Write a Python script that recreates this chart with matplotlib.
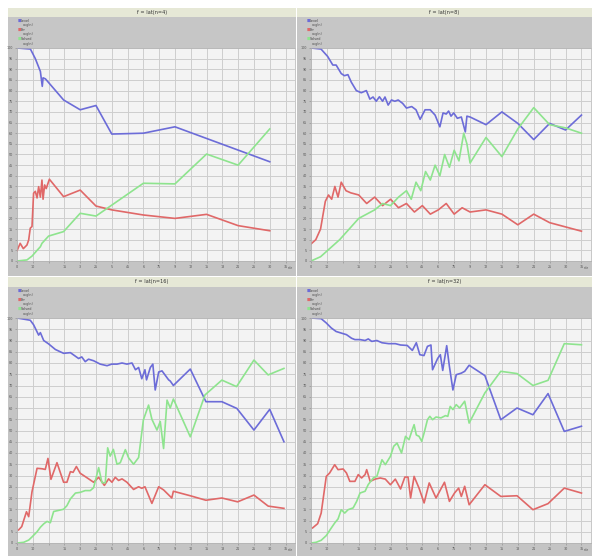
import matplotlib.pyplot as plt
from matplotlib.patches import Rectangle

W, H = 592, 556

# titres des quatre panneaux
titles = ["f = lat(n=4)", "f = lat(n=8)", "f = lat(n=16)", "f = lat(n=32)"]
legend_names = ["Level", "avg(n)", "Err", "avg(n)", "Solved", "avg(n)"]
x_ticks = list(range(0, 18))
x_ticklabels = ["0", "10", "", "15", "3", "25", "5", "45", "6", "75", "9", "12", "15", "18", "21", "25", "30", "35"]
y_ticks = [i * 0.05 for i in range(21)]
y_ticklabels = [str(i * 5) for i in range(21)]

# panneau n=4
n4_blue_x = [0, 0.85, 1.16, 1.48, 1.6, 1.65, 1.8, 2.95, 4.0, 5.0, 6.0, 8.0, 10.0, 16.0]
n4_blue_y = [1.0, 0.995, 0.95, 0.89, 0.82, 0.86, 0.855, 0.756, 0.71, 0.73, 0.596, 0.6, 0.63, 0.466]
n4_red_x = [0, 0.2, 0.4, 0.63, 0.74, 0.84, 0.95, 1.05, 1.16, 1.27, 1.37, 1.48, 1.58, 1.65, 1.75, 1.85, 2.05,
            2.95, 4.0, 5.0, 6.0, 8.0, 10.0, 12.0, 14.0, 16.0]
n4_red_y = [0.048, 0.083, 0.058, 0.075, 0.099, 0.154, 0.162, 0.318, 0.327, 0.296, 0.349, 0.30, 0.38, 0.29,
            0.357, 0.34, 0.384, 0.302, 0.333, 0.258, 0.24, 0.216, 0.2, 0.219, 0.166, 0.142]
n4_green_x = [0, 0.63, 0.95, 1.27, 1.48, 1.58, 2.0, 2.95, 4.0, 5.0, 8.0, 10.0, 12.0, 14.0, 16.0]
n4_green_y = [0.0, 0.005, 0.023, 0.05, 0.067, 0.083, 0.117, 0.138, 0.224, 0.211, 0.365, 0.362, 0.502, 0.45, 0.62]

# panneau n=8
n8_blue_x = [0, 0.63, 1.05, 1.37, 1.58, 1.9, 2.1, 2.32, 2.53, 2.85, 3.16, 3.48, 3.7, 3.9, 4.1, 4.3, 4.5, 4.65,
             4.85, 5.06, 5.27, 5.48, 5.76, 6.0, 6.33, 6.6, 6.86, 7.17, 7.49, 7.8, 8.1, 8.3, 8.5, 8.65, 8.8,
             8.97, 9.2, 9.45, 9.7, 9.8, 10.0, 11.0, 12.0, 13.0, 14.0, 15.0, 16.0, 17.0]
n8_blue_y = [1.0, 0.995, 0.96, 0.92, 0.92, 0.88, 0.87, 0.875, 0.84, 0.80, 0.79, 0.80, 0.76, 0.77, 0.75, 0.771,
             0.75, 0.77, 0.732, 0.756, 0.75, 0.756, 0.74, 0.718, 0.725, 0.71, 0.665, 0.71, 0.71, 0.685, 0.63,
             0.695, 0.69, 0.704, 0.68, 0.695, 0.67, 0.676, 0.606, 0.68, 0.676, 0.64, 0.70, 0.646, 0.57, 0.646,
             0.615, 0.685]
n8_red_x = [0, 0.3, 0.6, 0.9, 1.1, 1.3, 1.5, 1.7, 1.9, 2.2, 2.5, 3.0, 3.5, 4.0, 4.5, 5.0, 5.5, 6.0, 6.5, 7.0,
            7.5, 8.0, 8.5, 9.0, 9.5, 10.0, 11.0, 12.0, 13.0, 14.0, 15.0, 16.0, 17.0]
n8_red_y = [0.08, 0.1, 0.15, 0.28, 0.31, 0.29, 0.35, 0.30, 0.37, 0.33, 0.32, 0.31, 0.27, 0.30, 0.26, 0.29, 0.25,
            0.27, 0.23, 0.26, 0.22, 0.24, 0.27, 0.22, 0.25, 0.23, 0.24, 0.22, 0.17, 0.22, 0.18, 0.16, 0.14]
n8_green_x = [0, 0.6, 1.2, 1.8, 2.4, 3.0, 3.5, 4.0, 4.5, 5.0, 5.5, 6.0, 6.3, 6.6, 6.9, 7.2, 7.5, 7.8, 8.1, 8.4,
              8.7, 9.0, 9.3, 9.6, 9.8, 10.0, 11.0, 12.0, 13.0, 14.0, 15.0, 16.0, 17.0]
n8_green_y = [0.0, 0.02, 0.06, 0.1, 0.15, 0.2, 0.22, 0.24, 0.27, 0.26, 0.3, 0.33, 0.29, 0.37, 0.33, 0.42, 0.38,
              0.45, 0.40, 0.50, 0.44, 0.52, 0.47, 0.60, 0.55, 0.46, 0.58, 0.49, 0.62, 0.72, 0.64, 0.625, 0.60]

# panneau n=16
n16_blue_x = [0, 0.84, 1.05, 1.37, 1.48, 1.69, 2.0, 2.43, 2.95, 3.38, 3.9, 4.1, 4.32, 4.53, 4.85, 5.27, 5.7,
              6.0, 6.33, 6.65, 6.96, 7.28, 7.5, 7.7, 7.9, 8.1, 8.2, 8.44, 8.6, 8.75, 8.97, 9.18, 9.39, 9.6, 9.7,
              9.9, 10.97, 11.96, 12.97, 13.92, 15.0, 16.0, 16.9]
n16_blue_y = [1.0, 0.99, 0.97, 0.924, 0.935, 0.90, 0.885, 0.86, 0.843, 0.846, 0.82, 0.827, 0.806, 0.817, 0.81,
              0.795, 0.788, 0.795, 0.795, 0.80, 0.795, 0.80, 0.77, 0.78, 0.73, 0.77, 0.725, 0.78, 0.795, 0.68,
              0.76, 0.765, 0.745, 0.725, 0.72, 0.70, 0.773, 0.628, 0.628, 0.598, 0.502, 0.594, 0.45]
n16_red_x = [0.1, 0.3, 0.6, 0.74, 0.95, 1.27, 1.58, 1.79, 1.96, 2.15, 2.53, 2.95, 3.16, 3.38, 3.55, 3.76, 4.0,
             4.43, 4.85, 5.17, 5.53, 5.8, 6.01, 6.22, 6.43, 6.65, 6.96, 7.38, 7.7, 7.9, 8.1, 8.54, 8.97, 9.28,
             9.8, 9.9, 10.97, 11.96, 12.97, 13.97, 15.0, 15.9, 16.9]
n16_red_y = [0.058, 0.073, 0.139, 0.117, 0.228, 0.332, 0.33, 0.327, 0.376, 0.283, 0.357, 0.27, 0.27, 0.317,
             0.314, 0.34, 0.31, 0.29, 0.27, 0.292, 0.256, 0.285, 0.27, 0.292, 0.278, 0.285, 0.27, 0.238, 0.25,
             0.243, 0.25, 0.176, 0.25, 0.236, 0.2, 0.23, 0.21, 0.19, 0.20, 0.183, 0.213, 0.164, 0.154]
n16_green_x = [0, 0.42, 0.74, 0.95, 1.27, 1.48, 1.69, 1.9, 2.11, 2.32, 2.64, 2.95, 3.16, 3.38, 3.7, 4.0, 4.32,
               4.64, 4.85, 5.17, 5.38, 5.59, 5.74, 5.9, 6.1, 6.33, 6.54, 6.86, 7.07, 7.38, 7.7, 8.0, 8.33, 8.54,
               8.86, 9.07, 9.28, 9.5, 9.7, 9.9, 10.97, 11.9, 12.97, 13.9, 15.0, 15.9, 16.9]
n16_green_y = [0.0, 0.003, 0.013, 0.027, 0.05, 0.07, 0.085, 0.096, 0.09, 0.14, 0.145, 0.15, 0.166, 0.196,
               0.222, 0.225, 0.233, 0.233, 0.246, 0.335, 0.268, 0.268, 0.423, 0.386, 0.416, 0.35, 0.357, 0.415,
               0.378, 0.35, 0.38, 0.547, 0.613, 0.55, 0.502, 0.54, 0.42, 0.635, 0.60, 0.64, 0.472, 0.658,
               0.724, 0.695, 0.813, 0.747, 0.776]

# panneau n=32
n32_blue_x = [0, 0.64, 0.96, 1.27, 1.58, 1.9, 2.23, 2.55, 2.76, 3.08, 3.4, 3.6, 3.82, 4.14, 4.46, 4.88, 5.3,
              5.63, 6.05, 6.37, 6.62, 6.84, 7.1, 7.32, 7.54, 7.64, 7.96, 8.13, 8.28, 8.53, 8.7, 8.92, 9.13,
              9.45, 9.66, 9.94, 10.93, 11.93, 12.95, 13.95, 14.9, 15.92, 17.0]
n32_blue_y = [1.0, 0.997, 0.978, 0.956, 0.94, 0.933, 0.926, 0.91, 0.904, 0.904, 0.9, 0.907, 0.896, 0.9, 0.89,
              0.886, 0.886, 0.88, 0.878, 0.856, 0.89, 0.837, 0.833, 0.874, 0.88, 0.77, 0.82, 0.837, 0.767,
              0.877, 0.785, 0.68, 0.748, 0.755, 0.763, 0.79, 0.744, 0.548, 0.6, 0.57, 0.664, 0.496, 0.519]
n32_red_x = [0.1, 0.42, 0.64, 0.96, 1.17, 1.49, 1.7, 2.02, 2.23, 2.44, 2.76, 2.97, 3.18, 3.4, 3.5, 3.72, 4.03,
             4.35, 4.67, 4.99, 5.3, 5.63, 5.9, 6.1, 6.26, 6.48, 6.79, 7.11, 7.43, 7.86, 8.39, 8.7, 9.02, 9.28,
             9.45, 9.66, 9.94, 10.93, 11.93, 12.95, 13.95, 14.9, 15.92, 17.0]
n32_red_y = [0.067, 0.086, 0.133, 0.296, 0.311, 0.348, 0.326, 0.329, 0.311, 0.274, 0.274, 0.304, 0.289, 0.304,
             0.326, 0.274, 0.284, 0.289, 0.284, 0.259, 0.284, 0.24, 0.293, 0.293, 0.2, 0.296, 0.244, 0.178,
             0.267, 0.2, 0.27, 0.185, 0.222, 0.244, 0.207, 0.252, 0.17, 0.259, 0.207, 0.21, 0.148, 0.175,
             0.244, 0.222]
n32_green_x = [0, 0.32, 0.64, 0.96, 1.23, 1.49, 1.7, 1.9, 2.12, 2.33, 2.65, 2.87, 3.08, 3.4, 3.6, 3.93, 4.14,
               4.46, 4.67, 4.99, 5.2, 5.41, 5.69, 5.94, 6.16, 6.37, 6.48, 6.62, 6.79, 6.96, 7.11, 7.32, 7.47,
               7.64, 7.86, 8.17, 8.45, 8.6, 8.75, 8.92, 9.13, 9.34, 9.66, 9.94, 10.93, 11.93, 12.95, 13.95,
               14.9, 15.92, 17.0]
n32_green_y = [0.0, 0.003, 0.012, 0.033, 0.062, 0.089, 0.107, 0.148, 0.133, 0.148, 0.156, 0.185, 0.222, 0.23,
               0.26, 0.29, 0.296, 0.37, 0.348, 0.385, 0.43, 0.444, 0.4, 0.474, 0.459, 0.504, 0.526, 0.48, 0.474,
               0.452, 0.489, 0.548, 0.563, 0.548, 0.56, 0.556, 0.566, 0.563, 0.607, 0.593, 0.615, 0.6, 0.63,
               0.533, 0.667, 0.763, 0.753, 0.7, 0.723, 0.886, 0.881]

BLUE, RED, GREEN = "#6c6cd8", "#e06868", "#8ee48e"

series = [
    [(n4_blue_x, n4_blue_y), (n4_red_x, n4_red_y), (n4_green_x, n4_green_y)],
    [(n8_blue_x, n8_blue_y), (n8_red_x, n8_red_y), (n8_green_x, n8_green_y)],
    [(n16_blue_x, n16_blue_y), (n16_red_x, n16_red_y), (n16_green_x, n16_green_y)],
    [(n32_blue_x, n32_blue_y), (n32_red_x, n32_red_y), (n32_green_x, n32_green_y)],
]

# géométrie des panneaux en pixels : (gauche, droite, haut titre, haut legende, haut trace, bas trace, bas)
panels = [
    (8, 296, 297, 8, 17, 48, 261, 276),
    (297, 311, 592, 8, 17, 48, 261, 276),
    (8, 17, 296, 277, 287, 318, 543, 556),
    (297, 311, 592, 277, 287, 318, 543, 556),
]
panels[0] = (8, 17, 296, 8, 17, 48, 261, 276)


def box(x0, y0, x1, y1):
    return [x0 / W, 1 - y1 / H, (x1 - x0) / W, (y1 - y0) / H]


def rect(fig, x0, y0, x1, y1, color):
    b = box(x0, y0, x1, y1)
    fig.add_artist(Rectangle((b[0], b[1]), b[2], b[3], transform=fig.transFigure,
                             facecolor=color, edgecolor="none", zorder=0))


fig = plt.figure(figsize=(W / 100, H / 100), dpi=100)
fig.patch.set_facecolor("white")

for k, (px0, pxa, px1, t0, l0, p0, p1, b1) in enumerate(panels):
    # bandeau du titre
    rect(fig, px0, t0, px1, l0, "#e6e8d6")
    fig.text((px0 + px1) / 2 / W, 1 - (t0 + l0) / 2 / H, titles[k], ha="center", va="center",
             fontsize=3.6, color="#333333")
    # bandeau de la légende
    rect(fig, px0, l0, px1, p0, "#c6c6c6")
    cols = [BLUE, None, RED, None, GREEN, None]
    for i, name in enumerate(legend_names):
        yy = 1 - (l0 + 3.5 + i * 4.6) / H
        if cols[i] is not None:
            fig.text((px0 + 10) / W, yy, "■", color=cols[i], fontsize=2.6, va="center")
            fig.text((px0 + 13) / W, yy, name, color="#444444", fontsize=2.4, va="center")
        else:
            fig.text((px0 + 15) / W, yy, name, color="#555555", fontsize=2.4, va="center")
    # bandes des axes
    rect(fig, px0, p0, pxa, b1, "#c4c4c4")
    rect(fig, px0, p1, px1, b1, "#c4c4c4")

    ax = fig.add_axes(box(pxa, p0, px1 - 1, p1))
    ax.set_facecolor("#f3f3f3")
    for (xs, ys), c in zip(series[k], [BLUE, RED, GREEN]):
        ax.plot(xs, ys, color=c, lw=1.2, solid_joinstyle="round")
    ax.set_xlim(0, 17.6)
    ax.set_ylim(0, 1)
    ax.set_xticks(x_ticks)
    ax.set_xticklabels(x_ticklabels)
    ax.set_yticks(y_ticks)
    ax.set_yticklabels(y_ticklabels)
    ax.tick_params(labelsize=2.4, labelcolor="#555555", length=1.5, width=0.4, color="#888888", pad=1.5)
    ax.grid(True, color="#cdcdcd", lw=0.7)
    ax.set_axisbelow(True)
    for s in ax.spines.values():
        s.set_color("#b0b0b0")
        s.set_linewidth(0.5)
    fig.text((px1 - 6) / W, 1 - (p1 + 7) / H, "n/e", fontsize=2.4, color="#555555", ha="center", va="center")

fig.savefig("out.png", dpi=100)
